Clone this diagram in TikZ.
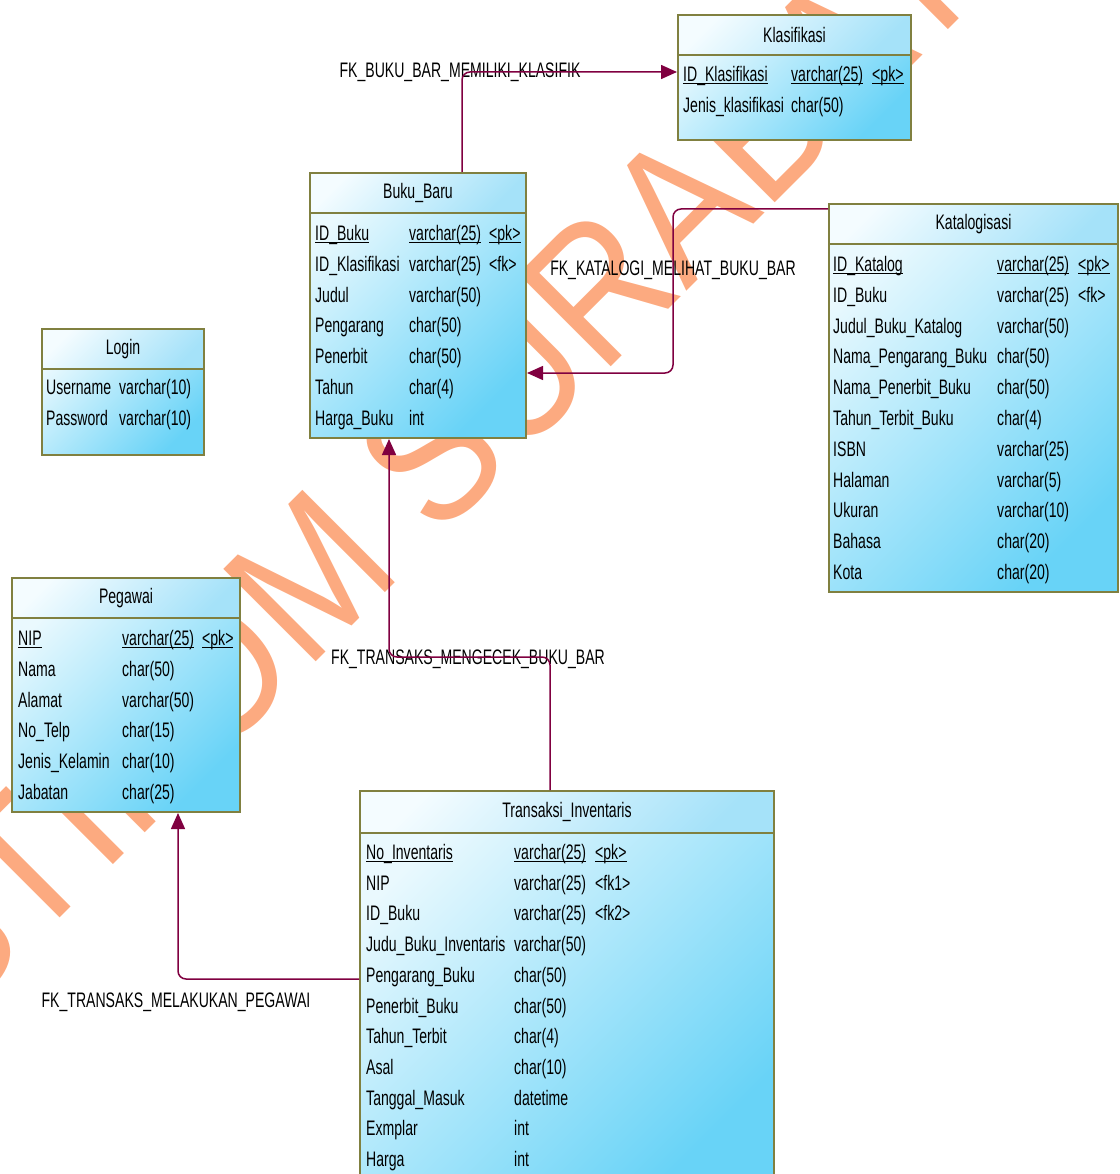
\documentclass[tikz,border=0pt]{standalone}
\usepackage{fontspec}
\setmainfont[FakeStretch=0.67]{Liberation Sans}
\newfontfamily\wmfont[FakeStretch=0.88]{Liberation Sans}
\usetikzlibrary{arrows.meta}
\definecolor{tblborder}{RGB}{128,128,64}
\definecolor{bodyL}{RGB}{234,249,254}
\definecolor{bodyR}{RGB}{104,211,247}
\definecolor{hdrL}{RGB}{244,252,255}
\definecolor{hdrR}{RGB}{165,226,249}
\definecolor{fkcol}{RGB}{128,0,64}
\definecolor{wmcol}{RGB}{252,170,128}
\newcommand\ul[1]{\setbox0\hbox{#1}\rlap{\rule[-2.6pt]{\wd0}{1.3pt}}\box0}
\begin{document}
\begin{tikzpicture}[x=1pt,y=-1pt,
  tbl/.style={draw=tblborder, line width=2pt, inner sep=0pt, anchor=north west, left color=bodyL, right color=bodyR, shading angle=45},
  hdr/.style={draw=tblborder, line width=2pt, inner sep=0pt, anchor=north west, minimum height=40pt, left color=hdrL, right color=hdrR, shading angle=45, font=\fontsize{21}{25}\selectfont},
  cell/.style={anchor=base west, inner sep=0pt, font=\fontsize{21}{25}\selectfont},
  fklabel/.style={anchor=base, inner sep=0pt, font=\fontsize{21}{25}\selectfont},
  fk/.style={draw=fkcol, line width=1.5pt, rounded corners=8pt, -{Triangle[length=16pt,width=14pt]}},
  wm/.style={text=wmcol, inner sep=0pt, rotate=45, font=\wmfont\fontsize{190}{200}\selectfont}
]
\clip (0,0) rectangle (1119,1174);
% watermark
\node[wm, anchor=base west] (wmB) at (306,672) {M SURABAYA};
\node[wm, anchor=base east] (wmA) at (306,672) {STIKO};

% Klasifikasi
\node[tbl, minimum width=233pt, minimum height=125pt] (klas) at (677,14) {};
\node[hdr, minimum width=233pt] (klasH) at (677,14) {Klasifikasi};
\foreach [count=\i from 0] \a/\b/\c in {\ul{ID\_Klasifikasi}/\ul{varchar(25)}/\ul{<pk>}, Jenis\_klasifikasi/char(50)/{}}{
  \node[cell] (klas-a\i) at (683,{81.5+30.8*\i}) {\a};
  \node[cell] (klas-b\i) at (791,{81.5+30.8*\i}) {\b};
  \node[cell] (klas-c\i) at (872,{81.5+30.8*\i}) {\c};
}

% Buku_Baru
\node[tbl, minimum width=216pt, minimum height=265pt] (buku) at (309,172) {};
\node[hdr, minimum width=216pt] (bukuH) at (309,172) {Buku\_Baru};
\foreach [count=\i from 0] \a/\b/\c in {\ul{ID\_Buku}/\ul{varchar(25)}/\ul{<pk>}, ID\_Klasifikasi/varchar(25)/<fk>, Judul/varchar(50)/{}, Pengarang/char(50)/{}, Penerbit/char(50)/{}, Tahun/char(4)/{}, Harga\_Buku/int/{}}{
  \node[cell] (buku-a\i) at (315,{240.5+30.8*\i}) {\a};
  \node[cell] (buku-b\i) at (409,{240.5+30.8*\i}) {\b};
  \node[cell] (buku-c\i) at (489,{240.5+30.8*\i}) {\c};
}

% Katalogisasi
\node[tbl, minimum width=289pt, minimum height=388pt] (kat) at (828,203) {};
\node[hdr, minimum width=289pt] (katH) at (828,203) {Katalogisasi};
\foreach [count=\i from 0] \a/\b/\c in {\ul{ID\_Katalog}/\ul{varchar(25)}/\ul{<pk>}, ID\_Buku/varchar(25)/<fk>, Judul\_Buku\_Katalog/varchar(50)/{}, Nama\_Pengarang\_Buku/char(50)/{}, Nama\_Penerbit\_Buku/char(50)/{}, Tahun\_Terbit\_Buku/char(4)/{}, ISBN/varchar(25)/{}, Halaman/varchar(5)/{}, Ukuran/varchar(10)/{}, Bahasa/char(20)/{}, Kota/char(20)/{}}{
  \node[cell] (kat-a\i) at (833,{271.5+30.8*\i}) {\a};
  \node[cell] (kat-b\i) at (997,{271.5+30.8*\i}) {\b};
  \node[cell] (kat-c\i) at (1078,{271.5+30.8*\i}) {\c};
}

% Login
\node[tbl, minimum width=162pt, minimum height=126pt] (login) at (41,328) {};
\node[hdr, minimum width=162pt] (loginH) at (41,328) {Login};
\foreach [count=\i from 0] \a/\b in {Username/varchar(10), Password/varchar(10)}{
  \node[cell] (login-a\i) at (46,{394.5+30.8*\i}) {\a};
  \node[cell] (login-b\i) at (119,{394.5+30.8*\i}) {\b};
}

% Pegawai
\node[tbl, minimum width=228pt, minimum height=234pt] (peg) at (11,577) {};
\node[hdr, minimum width=228pt] (pegH) at (11,577) {Pegawai};
\foreach [count=\i from 0] \a/\b/\c in {\ul{NIP}/\ul{varchar(25)}/\ul{<pk>}, Nama/char(50)/{}, Alamat/varchar(50)/{}, No\_Telp/char(15)/{}, Jenis\_Kelamin/char(10)/{}, Jabatan/char(25)/{}}{
  \node[cell] (peg-a\i) at (18,{645.5+30.8*\i}) {\a};
  \node[cell] (peg-b\i) at (122,{645.5+30.8*\i}) {\b};
  \node[cell] (peg-c\i) at (202,{645.5+30.8*\i}) {\c};
}

% Transaksi_Inventaris
\node[tbl, minimum width=414pt, minimum height=400pt] (trans) at (359,790) {};
\node[hdr, minimum width=414pt, minimum height=42pt] (transH) at (359,790) {Transaksi\_Inventaris};
\foreach [count=\i from 0] \a/\b/\c in {\ul{No\_Inventaris}/\ul{varchar(25)}/\ul{<pk>}, NIP/varchar(25)/<fk1>, ID\_Buku/varchar(25)/<fk2>, Judu\_Buku\_Inventaris/varchar(50)/{}, Pengarang\_Buku/char(50)/{}, Penerbit\_Buku/char(50)/{}, Tahun\_Terbit/char(4)/{}, Asal/char(10)/{}, Tanggal\_Masuk/datetime/{}, Exmplar/int/{}, Harga/int/{}}{
  \node[cell] (trans-a\i) at (366,{859.5+30.7*\i}) {\a};
  \node[cell] (trans-b\i) at (514,{859.5+30.7*\i}) {\b};
  \node[cell] (trans-c\i) at (595,{859.5+30.7*\i}) {\c};
}

% connector labels
\node[fklabel] (l1) at (460,77.5) {FK\_BUKU\_BAR\_MEMILIKI\_KLASIFIK};
\node[fklabel] (l2) at (673,275.5) {FK\_KATALOGI\_MELIHAT\_BUKU\_BAR};
\node[fklabel] (l3) at (468,664.5) {FK\_TRANSAKS\_MENGECEK\_BUKU\_BAR};
\node[fklabel] (l4) at (176,1007.5) {FK\_TRANSAKS\_MELAKUKAN\_PEGAWAI};

% connectors
\draw[fk] ([xshift=44pt]buku.north) |- ([yshift=5.5pt]klas.west);
\draw[fk] ([yshift=-6pt]kat.north west) -- ++(-155,0) |- ([yshift=-67.5pt]buku.east);
\draw[fk] ([xshift=-17pt]trans.north) -- ++(0,-133) -| ([xshift=-29pt]buku.south);
\draw[fk] ([yshift=12pt]trans.west) -| ([xshift=52pt]peg.south);
\end{tikzpicture}
\end{document}
